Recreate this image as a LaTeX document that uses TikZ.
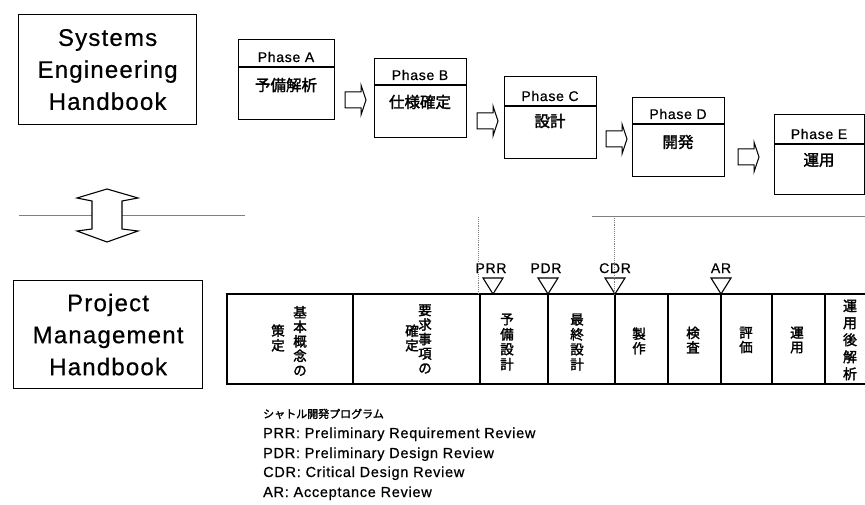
\documentclass[tikz,border=0pt]{standalone}
\usepackage{fontspec}
\setmainfont{Liberation Sans}
\newfontfamily\spaced[LetterSpace=5,FakeBold=0.6]{Liberation Sans}
\newfontfamily\cjk[FakeBold=2]{Noto Sans CJK JP}
\begin{document}
\begin{tikzpicture}[x=1pt,y=-1pt,
  hb/.style={draw, line width=1.2pt, inner sep=0, anchor=north west},
  hbtext/.style={align=center, inner sep=0, font=\spaced\fontsize{24}{32}\selectfont},
  phasebox/.style={draw, line width=0.8pt, inner sep=0, anchor=north west, minimum width=92pt, minimum height=80pt},
  phaselbl/.style={anchor=base, inner sep=0, font=\spaced\fontsize{14}{16}\selectfont},
  phasejp/.style={anchor=center, inner sep=0, font=\cjk\fontsize{15.5}{17}\selectfont},
  vt/.style={align=center, inner sep=0, font=\cjk\fontsize{13.5}{14.5}\selectfont},
  vtb/.style={align=center, inner sep=0, font=\cjk\fontsize{13.5}{15}\selectfont},
  vtc/.style={align=center, inner sep=0, font=\cjk\fontsize{14}{17}\selectfont},
  mslbl/.style={anchor=base, inner sep=0, font=\spaced\fontsize{14}{16}\selectfont},
  legend/.style={anchor=base west, inner sep=0, font=\spaced\fontsize{14.5}{16}\selectfont},
  sep/.style={draw=gray, line width=0.7pt},
  guide/.style={draw=gray, densely dotted, line width=0.9pt},
  blockarr/.pic={\draw[line width=1pt, fill=white] (0,-8) -- (16,-8) -- (16,-15) -- (21,0) -- (16,15) -- (16,8) -- (0,8) -- cycle;},
  ms/.pic={\draw[line width=1.1pt, fill=white] (-10,-16) -- (10,-16) -- (0,0) -- cycle;}
]
\useasboundingbox (0,0) rectangle (865,505);

% handbook boxes
\node[hb, minimum width=178pt, minimum height=110pt] (se) at (18,14) {};
\node[hbtext] (setext) at (se.center) {Systems\\Engineering\\Handbook};
\node[hb, minimum width=189pt, minimum height=108pt] (pm) at (13,280) {};
\node[hbtext] (pmtext) at (pm.center) {Project\\Management\\Handbook};

% separator lines
\draw[sep] (19,215) -- (245,215);
\draw[sep] (592,216) -- (865,216);

% double arrow between handbooks
\coordinate (dtop) at (107,189);
\coordinate (dbot) at (107,242);
\draw[line width=1.1pt, fill=white] (dtop) -- (138,198) -- (122,201) -- (122,229) -- (138,231) -- (dbot)
  -- (77,231) -- (92,229) -- (92,201) -- (77,198) -- cycle;

% phase boxes
\node[phasebox, minimum width=96pt] (pA) at (238,39) {};
\node[phasebox, minimum height=79pt] (pB) at (374,58) {};
\node[phasebox, minimum height=82pt] (pC) at (504,76) {};
\node[phasebox, minimum height=79pt] (pD) at (632,97) {};
\node[phasebox, minimum width=90pt] (pE) at (774,114) {};

\draw[line width=1.1pt] (pA.north west) ++(0,28) coordinate (dA) -- ++(96,0);
\draw[line width=1.1pt] (pB.north west) ++(0,27) coordinate (dB) -- ++(92,0);
\draw[line width=1.1pt] (pC.north west) ++(0,30) coordinate (dC) -- ++(92,0);
\draw[line width=1.1pt] (pD.north west) ++(0,27) coordinate (dD) -- ++(92,0);
\draw[line width=1.1pt] (pE.north west) ++(0,30) coordinate (dE) -- ++(90,0);

\node[phaselbl] (lA) at (286,62) {Phase A};
\node[phaselbl] (lB) at (420,80) {Phase B};
\node[phaselbl] (lC) at (550,101) {Phase C};
\node[phaselbl] (lD) at (678,119) {Phase D};
\node[phaselbl] (lE) at (819,139) {Phase E};

\node[phasejp] (jA) at (286,85) {予備解析};
\node[phasejp] (jB) at (420,102) {仕様確定};
\node[phasejp] (jC) at (550,121) {設計};
\node[phasejp] (jD) at (678,142) {開発};
\node[phasejp] (jE) at (819,160) {運用};

% block arrows between phases
\pic at (345,100) {blockarr};
\pic at (477,121) {blockarr};
\pic at (606,139) {blockarr};
\pic at (738,157) {blockarr};

% schedule table
\draw[line width=1.5pt] (865,294) -- (227,294) -- (227,384) -- (865,384);
\foreach \cx in {353,480,548,615,668,721,772,825}
  \draw[line width=1.2pt] (\cx,294) -- (\cx,384);

\node[vt] (c1a) at (300,341) {基\\本\\概\\念\\の};
\node[vt] (c1b) at (278,338) {策\\定};
\node[vt] (c2a) at (425,339) {要\\求\\事\\項\\の};
\node[vt] (c2b) at (412,338) {確\\定};
\node[vtb] (c3) at (507,342) {予\\備\\設\\計};
\node[vtb] (c4) at (577,342) {最\\終\\設\\計};
\node[vt] (c5) at (639,341) {製\\作};
\node[vt] (c6) at (693,340) {検\\査};
\node[vt] (c7) at (746,340) {評\\価};
\node[vt] (c8) at (797,340) {運\\用};
\node[vtc] (c9) at (850,340) {運\\用\\後\\解\\析};

% milestones
\pic at (493,294) {ms};
\pic at (548,294) {ms};
\pic at (615,294) {ms};
\pic at (721,294) {ms};
\node[mslbl] (prr) at (491,273) {PRR};
\node[mslbl] (pdr) at (546,273) {PDR};
\node[mslbl] (cdr) at (615,273) {CDR};
\node[mslbl] (ar) at (721,273) {AR};

% dotted guide lines
\draw[guide] (478,217) -- (478,294);
\draw[guide] (614,216) -- (614,294);

% legend
\node[anchor=base west, inner sep=0, font=\cjk\fontsize{11}{13}\selectfont] (lg0) at (263,418) {シャトル開発プログラム};
\node[legend] (lg1) at (263,438) {PRR: Preliminary Requirement Review};
\node[legend] (lg2) at (263,458) {PDR: Preliminary Design Review};
\node[legend] (lg3) at (263,477) {CDR: Critical Design Review};
\node[legend] (lg4) at (263,497) {AR: Acceptance Review};
\end{tikzpicture}
\end{document}
